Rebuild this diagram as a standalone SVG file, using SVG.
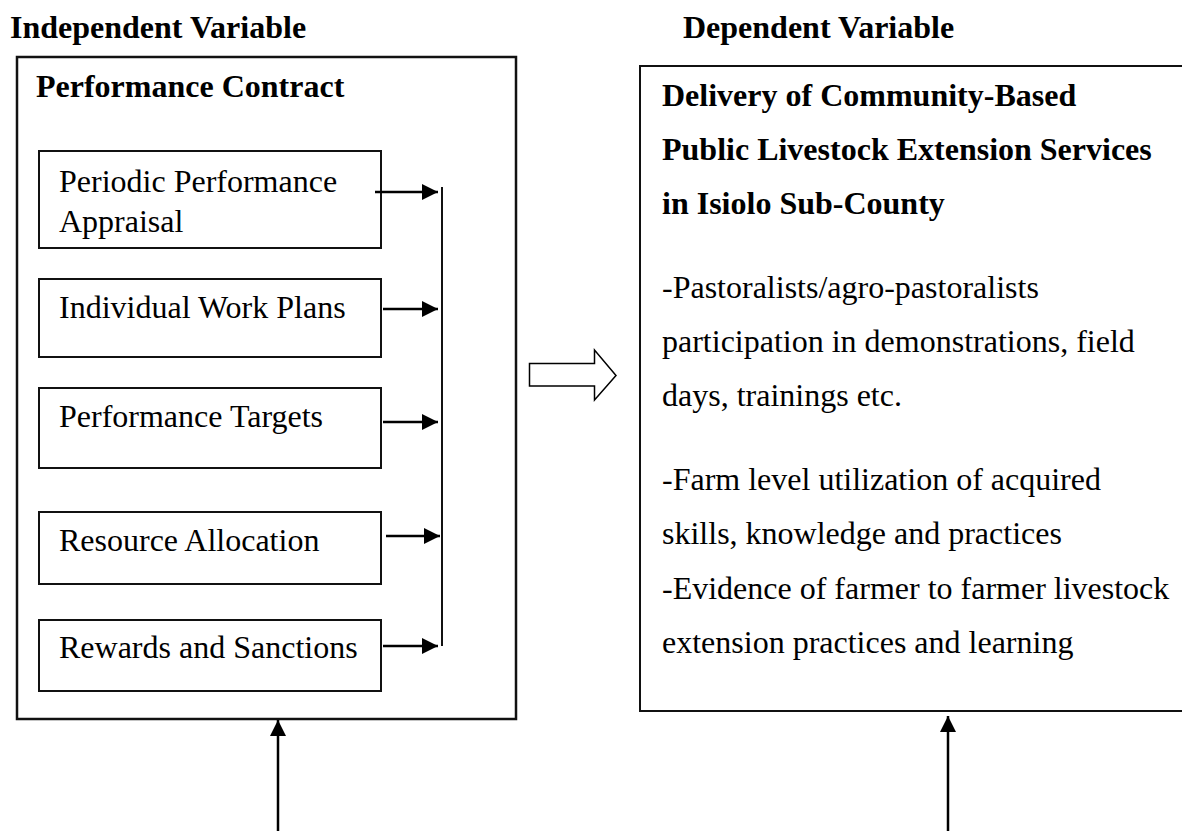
<svg xmlns="http://www.w3.org/2000/svg" width="1182" height="831" viewBox="0 0 1182 831">
  <style>
    text { font-family: "Liberation Serif", "Times New Roman", serif; font-size: 32px; fill: #000; }
    .b { font-weight: bold; }
    .box { fill: #fff; stroke: #111; stroke-width: 2; }
    .outer { fill: #fff; stroke: #111; stroke-width: 2.5; }
    .link { fill: none; stroke: #000; stroke-width: 2.5; }
    .rail { fill: none; stroke: #111; stroke-width: 2; }
  </style>
  <defs>
    <marker id="head" viewBox="0 0 10 10" refX="10" refY="5" markerWidth="6.5" markerHeight="6.5" markerUnits="strokeWidth" orient="auto">
      <path d="M0,0 L10,5 L0,10 z" fill="#000"/>
    </marker>
  </defs>

  <rect width="1182" height="831" fill="#fff"/>

  <!-- column headings -->
  <text id="independent-heading" class="b" x="10" y="38">Independent Variable</text>
  <text id="dependent-heading" class="b" x="683" y="38">Dependent Variable</text>

  <!-- independent variable container -->
  <g id="performance-contract">
    <rect class="outer" x="17" y="57" width="499" height="662"/>
    <text class="b" x="36" y="97">Performance Contract</text>
  </g>

  <g id="periodic-appraisal">
    <rect class="box" x="39" y="151" width="342" height="97"/>
    <text x="59" y="192">Periodic Performance</text>
    <text x="59" y="232">Appraisal</text>
  </g>

  <g id="work-plans">
    <rect class="box" x="39" y="279" width="342" height="78"/>
    <text x="59" y="318">Individual Work Plans</text>
  </g>

  <g id="performance-targets">
    <rect class="box" x="39" y="388" width="342" height="80"/>
    <text x="59" y="427">Performance Targets</text>
  </g>

  <g id="resource-allocation">
    <rect class="box" x="39" y="512" width="342" height="72"/>
    <text x="59" y="551">Resource Allocation</text>
  </g>

  <g id="rewards-sanctions">
    <rect class="box" x="39" y="620" width="342" height="71"/>
    <text x="59" y="658">Rewards and Sanctions</text>
  </g>

  <!-- dependent variable box (runs past the right edge) -->
  <g id="service-delivery">
    <rect class="box" x="640" y="66" width="560" height="645"/>
    <text class="b" x="662" y="106">Delivery of Community-Based</text>
    <text class="b" x="662" y="160">Public Livestock Extension Services</text>
    <text class="b" x="662" y="214">in Isiolo Sub-County</text>
    <text x="662" y="298">-Pastoralists/agro-pastoralists</text>
    <text x="662" y="352">participation in demonstrations, field</text>
    <text x="662" y="406">days, trainings etc.</text>
    <text x="662" y="490">-Farm level utilization of acquired</text>
    <text x="662" y="544">skills, knowledge and practices</text>
    <text x="662" y="599">-Evidence of farmer to farmer livestock</text>
    <text x="662" y="653">extension practices and learning</text>
  </g>

  <g id="connectors">
    <!-- collecting rail -->
    <line class="rail" x1="442" y1="187" x2="442" y2="646"/>
    <!-- indicator arrows into the rail -->
    <line class="link" x1="375" y1="192" x2="438" y2="192" marker-end="url(#head)"/>
    <line class="link" x1="383" y1="309" x2="438" y2="309" marker-end="url(#head)"/>
    <line class="link" x1="383" y1="422" x2="438" y2="422" marker-end="url(#head)"/>
    <line class="link" x1="386" y1="536" x2="440" y2="536" marker-end="url(#head)"/>
    <line class="link" x1="383" y1="646" x2="438" y2="646" marker-end="url(#head)"/>
    <!-- hollow block arrow between variables -->
    <path d="M529.5,363.5 H594.5 V350 L616,375.5 L594.5,400 V386 H529.5 Z" fill="#fff" stroke="#000" stroke-width="1.5" stroke-linejoin="miter"/>
    <!-- upward arrows from below -->
    <line class="link" x1="278" y1="831" x2="278" y2="720" marker-end="url(#head)"/>
    <line class="link" x1="948" y1="831" x2="948" y2="716" marker-end="url(#head)"/>
  </g>
</svg>
